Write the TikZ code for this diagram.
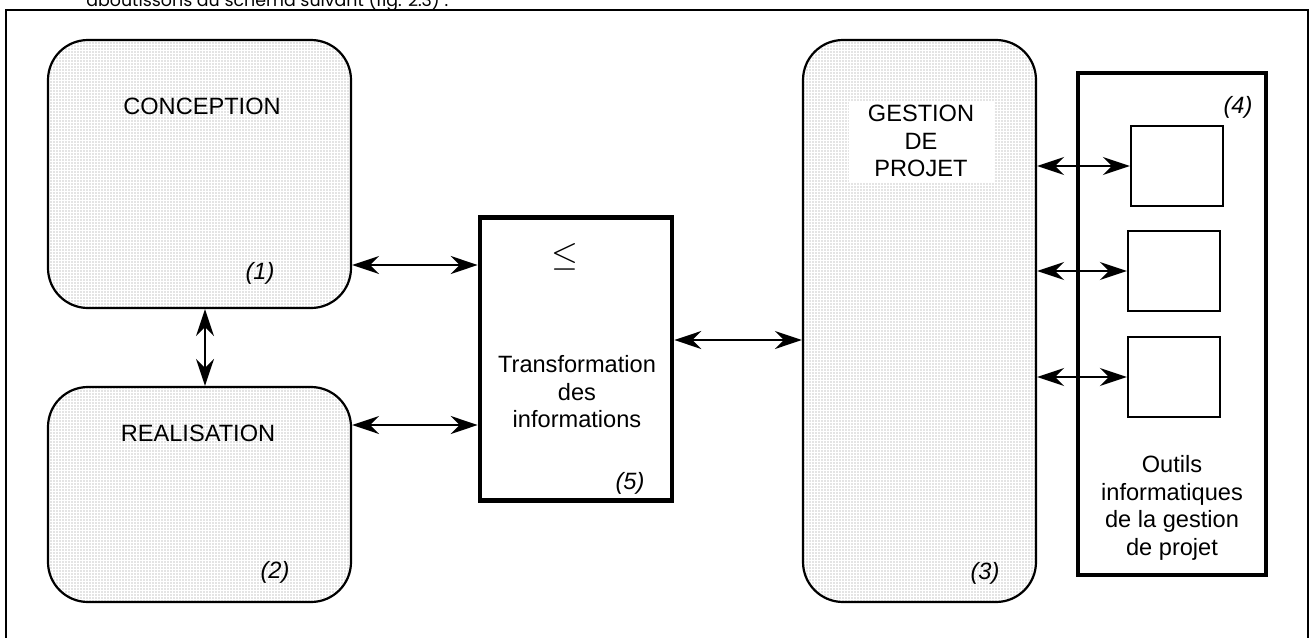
\documentclass[tikz,border=0pt]{standalone}
\usepackage{fontspec}
\setmainfont{Liberation Sans}
\newfontfamily\headfont{Poppins}
\usetikzlibrary{arrows.meta, patterns.meta}

\tikzdeclarepattern{
  name=finedots,
  type=uncolored,
  bottom left={(-0.75pt,-0.75pt)},
  top right={(0.75pt,0.75pt)},
  tile size={(1.5pt,1.5pt)},
  code={\fill (0pt,0pt) circle (0.32pt);}
}

\begin{document}
\begin{tikzpicture}[x=0.5pt, y=-0.5pt, font=\fontsize{11.8}{13.75}\selectfont,
  link/.style={line width=1pt, {Stealth[length=13.5pt,width=9pt,inset=4.5pt]}-{Stealth[length=13.5pt,width=9pt,inset=4.5pt]}},
  phase/.style={draw, line width=1.1pt, rounded corners=20pt, fill=white, pattern={finedots}, pattern color=black!45},
  heavy/.style={draw, line width=2.3pt, fill=white},
  num/.style={font=\fontsize{11.8}{13.75}\selectfont\itshape}]
  \useasboundingbox (0,0) rectangle (1310,637);

  % Cut-off line of the text above the figure, and the frame
  \begin{scope}
    \clip (0,0) rectangle (1310,637);
    \node[anchor=base west, inner sep=0pt, font=\headfont\fontsize{8.7}{11}\selectfont] (head) at (86,6) {aboutissons au schéma suivant (fig. 2.3) :};
    \draw[line width=1.3pt] (6,660) |- (1308,10) -- (1308,660);
  \end{scope}

  % Phases (1), (2) and project management (3)
  \node[phase, minimum width=151.5pt, minimum height=134pt] (conc) at (199.5,174) {};
  \node[phase, minimum width=151.5pt, minimum height=107.5pt] (real) at (199.5,494.5) {};
  \node[phase, minimum width=116.5pt, minimum height=281pt] (gest) at (919.5,321) {};

  % Transformation (5) and tools (4)
  \node[heavy, minimum width=96pt, minimum height=141.5pt] (trans) at (576,359) {};
  \node[heavy, minimum width=94pt, minimum height=251pt] (outils) at (1172,324) {};

  % Labels
  \node (conctxt) at (202,106) {CONCEPTION};
  \node[num] (n1) at (260,273) {(1)};
  \node (realtxt) at (198,433) {REALISATION};
  \node[num] (n2) at (275,572) {(2)};
  \node[fill=white, inner sep=0pt, minimum width=72.5pt, minimum height=40.5pt, align=center] (gesttxt) at (921,141) {GESTION\\DE\\PROJET};
  \node[num] (n3) at (985,573) {(3)};
  \node[font=\fontsize{19}{22}\selectfont] (leq) at (565,257) {$\leq$};
  \node[align=center] (transtxt) at (577,392) {Transformation\\des\\informations};
  \node[num] (n5) at (630,483) {(5)};
  \node[num] (n4) at (1238,107) {(4)};
  \node[align=center] (outilstxt) at (1172,508) {Outils\\informatiques\\de la gestion\\de projet};

  % Tool boxes and their links
  \foreach \i/\x/\y in {1/1177/166, 2/1174/271, 3/1174/377} {
    \node[draw, line width=1.2pt, fill=white, minimum width=46pt, minimum height=40pt] (t\i) at (\x,\y) {};
    \draw[link] (gest.east |- t\i.west) -- (t\i.west);
  }

  % Links between the blocks
  \draw[link] (conc.south -| 205,0) -- (real.north -| 205,0);
  \draw[link] (conc.east |- 0,265) -- (trans.west |- 0,265);
  \draw[link] (real.east |- 0,425) -- (trans.west |- 0,425);
  \draw[link] (trans.east |- 0,340) -- (gest.west |- 0,340);
\end{tikzpicture}
\end{document}
